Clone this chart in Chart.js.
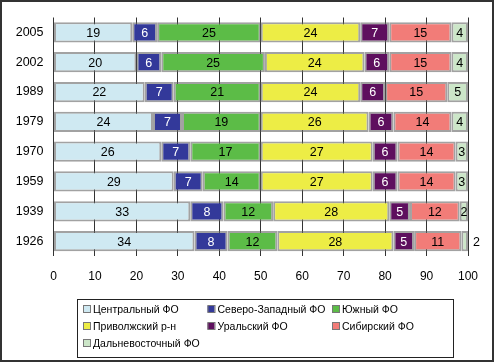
<!DOCTYPE html>
<html>
<head>
<meta charset="utf-8">
<script src="https://cdn.jsdelivr.net/npm/chart.js@4.4.0/dist/chart.umd.min.js"></script>
<style>
    body { margin: 0; background: #fff; }
    #chart { display: block; }
</style>
</head>
<body>
<canvas id="chart" width="495" height="363"></canvas>
<script>
var years = ["2005", "2002", "1989", "1979", "1970", "1959", "1939", "1926"];
var districts = ["Центральный ФО", "Северо-Западный ФО", "Южный ФО", "Приволжский р-н", "Уральский ФО", "Сибирский ФО", "Дальневосточный ФО"];

var central = [19, 20, 22, 24, 26, 29, 33, 34];
var northWest = [6, 6, 7, 7, 7, 7, 8, 8];
var south = [25, 25, 21, 19, 17, 14, 12, 12];
var volga = [24, 24, 24, 26, 27, 27, 28, 28];
var ural = [7, 6, 6, 6, 6, 6, 5, 5];
var siberia = [15, 15, 15, 14, 14, 14, 12, 11.4];
var farEast = [4, 4, 5, 4, 3, 3, 2, 1.6];

var xTicks = [0, 10, 20, 30, 40, 50, 60, 70, 80, 90, 100];

var fillColors = ["#cfe9f2", "#33399a", "#5cbc47", "#eded45", "#5e0f5e", "#f27c78", "#cce6c8"];
var labelColors = ["#000", "#fff", "#000", "#000", "#fff", "#000", "#000"];
var FONT = "Arial, 'Liberation Sans', sans-serif";

var series = [central, northWest, south, volga, ural, siberia, farEast];

// value labels in the middle of each piece, tiny last pieces get the label outside
var valueLabels = {
    id: "valueLabels",
    afterDatasetsDraw: function (chart) {
        var ctx = chart.ctx;
        ctx.save();
        ctx.font = "12.5px " + FONT;
        ctx.textBaseline = "middle";
        chart.data.datasets.forEach(function (ds, di) {
            var meta = chart.getDatasetMeta(di);
            meta.data.forEach(function (bar, i) {
                var txt = String(Math.round(ds.data[i]));
                var w = Math.abs(bar.x - bar.base);
                if (w < 8) {
                    ctx.fillStyle = "#000";
                    ctx.textAlign = "left";
                    ctx.fillText(txt, bar.x + 5, bar.y + 1);
                } else {
                    ctx.fillStyle = labelColors[di];
                    ctx.textAlign = "center";
                    ctx.fillText(txt, (bar.x + bar.base) / 2, bar.y + 1);
                }
            });
        });
        ctx.restore();
    }
};

// legend in a framed box with three fixed columns
var boxLegend = {
    id: "boxLegend",
    afterDraw: function (chart) {
        var ctx = chart.ctx;
        var left = 77, top = 299, right = 453, bottom = 357;
        ctx.save();
        ctx.strokeStyle = "#222";
        ctx.lineWidth = 1;
        ctx.strokeRect(left + 0.5, top + 0.5, right - left, bottom - top);
        ctx.font = "10.5px " + FONT;
        ctx.textBaseline = "middle";
        ctx.textAlign = "left";
        chart.data.datasets.forEach(function (ds, i) {
            var col = i % 3, row = Math.floor(i / 3);
            var x = 83 + col * 124.5;
            var y = 309 + row * 17;
            ctx.fillStyle = ds.backgroundColor;
            ctx.fillRect(x, y - 3.5, 7, 7);
            ctx.strokeStyle = "#777";
            ctx.strokeRect(x + 0.5, y - 3.5, 7, 7);
            ctx.fillStyle = "#000";
            ctx.fillText(ds.label, x + 10, y + 1);
        });
        ctx.restore();
    }
};

// white page with a dark frame round it
var frame = {
    id: "frame",
    beforeDraw: function (chart) {
        var ctx = chart.ctx;
        ctx.save();
        ctx.fillStyle = "#fff";
        ctx.fillRect(0, 0, chart.width, chart.height);
        ctx.restore();
    },
    afterDraw: function (chart) {
        var ctx = chart.ctx;
        ctx.save();
        ctx.strokeStyle = "#333";
        ctx.lineWidth = 2;
        ctx.strokeRect(1, 1, chart.width - 3, chart.height - 3);
        ctx.restore();
    }
};

var datasets = districts.map(function (name, i) {
    return {
        label: name,
        data: series[i],
        backgroundColor: fillColors[i],
        borderColor: "rgba(100, 100, 100, 0.6)",
        borderWidth: 2,
        borderSkipped: false,
        barPercentage: 0.85,
        categoryPercentage: 0.8
    };
});

var chart = new Chart(document.getElementById("chart"), {
    type: "bar",
    data: {
        labels: years,
        datasets: datasets
    },
    options: {
        indexAxis: "y",
        responsive: false,
        animation: false,
        layout: {
            padding: { left: 0, right: 27, top: 14, bottom: 77 }
        },
        plugins: {
            legend: { display: false },
            tooltip: { enabled: false }
        },
        scales: {
            x: {
                stacked: true,
                min: 0,
                max: 100,
                afterBuildTicks: function (scale) {
                    scale.ticks = xTicks.map(function (v) { return { value: v }; });
                },
                afterFit: function (scale) { scale.height = 30; },
                grid: {
                    color: "#333",
                    lineWidth: 1,
                    drawTicks: false
                },
                border: { display: false },
                ticks: {
                    padding: 13,
                    color: "#000",
                    font: { family: FONT, size: 12 }
                }
            },
            y: {
                stacked: true,
                afterFit: function (scale) { scale.width = 53.5; },
                grid: { display: false, drawTicks: false },
                border: { display: false },
                ticks: {
                    padding: 10,
                    color: "#000",
                    font: { family: FONT, size: 12.5 }
                }
            }
        }
    },
    plugins: [frame, valueLabels, boxLegend]
});
</script>
</body>
</html>
